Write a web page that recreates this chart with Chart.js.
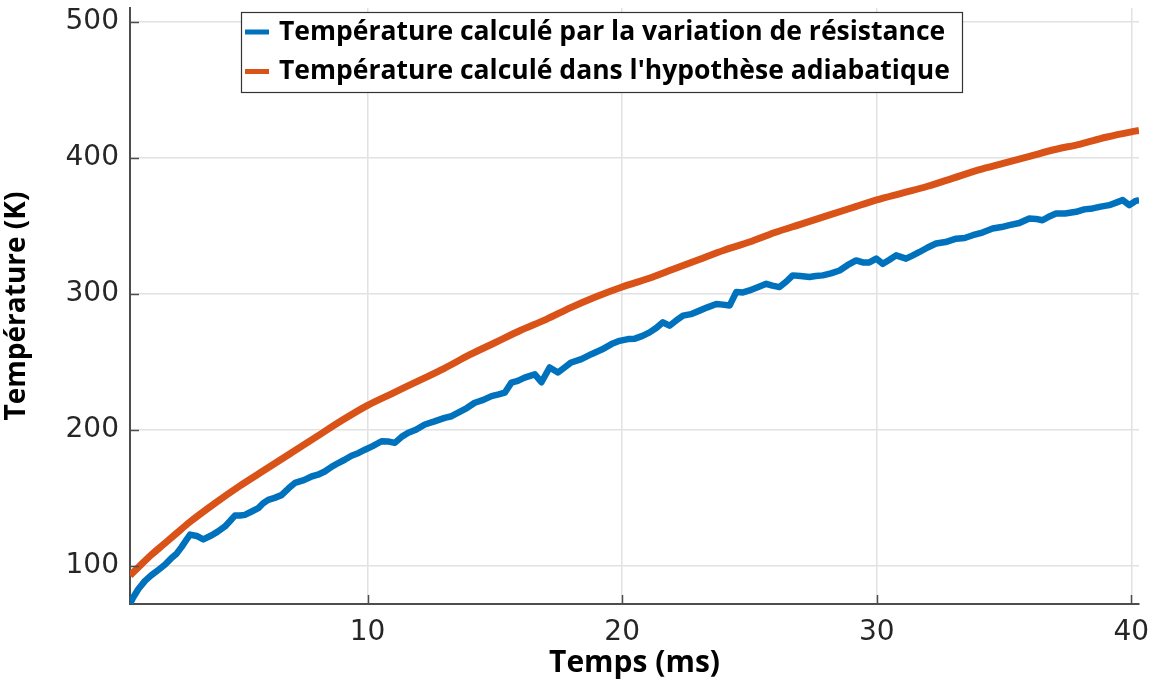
<!DOCTYPE html>
<html>
<head>
    <title>Température</title>
    <script src="https://cdn.jsdelivr.net/npm/chart.js"></script>
    <style>
        body { margin:0; background:#fff; }
        #wrap { width:1161px; height:681px; position:relative; }
    </style>
</head>
<body>
<div id="wrap"><canvas id="tempChart"></canvas></div>
<script>
// data (t in ms, T in K)
const timeBlue = [0.67,0.8,1.0,1.26,1.5,1.78,2.05,2.31,2.5,2.7,2.88,3.03,3.29,3.55,3.88,4.1,4.4,4.6,4.79,5.0,
  5.18,5.45,5.71,5.9,6.1,6.35,6.62,6.9,7.15,7.5,7.8,8.05,8.32,8.6,8.85,9.1,9.37,9.65,9.9,10.2,
  10.55,10.8,11.07,11.35,11.6,11.9,12.25,12.6,13.03,13.3,13.56,13.9,14.21,14.55,14.87,15.15,15.39,15.65,15.9,16.17,
  16.57,16.83,17.15,17.48,17.75,18.0,18.4,18.79,19.2,19.58,19.9,20.23,20.5,20.8,21.08,21.35,21.6,21.86,22.1,22.39,
  22.7,23.04,23.35,23.7,23.95,24.22,24.48,24.75,25.0,25.35,25.66,25.9,26.18,26.45,26.7,27.0,27.36,27.6,27.88,28.2,
  28.54,28.85,29.19,29.45,29.71,29.98,30.24,30.5,30.76,31.15,31.4,31.68,32.0,32.33,32.7,33.12,33.45,33.77,34.15,34.55,
  34.9,35.21,35.6,35.99,36.25,36.51,36.8,37.04,37.4,37.83,38.15,38.48,38.8,39.13,39.4,39.66,39.92,40.15,40.31];
const tempBlue = [72,77,83,89,93,97,101,106,109,114,119,123,122,119.5,122.5,125,129,133,137,137,
  137.5,140,142.5,146,148.5,150,152,157,161,163,165.7,167,169.4,173,175.6,178,181,183,185.4,188,
  191.6,191.5,190.4,195,197.8,200,203.9,206,208.8,210,212.6,216,219.9,222,224.8,226,227.3,234.7,236,238.4,
  240.8,235,245.8,242.1,246,249.5,252,255.6,259,263,265.4,266.7,267,269,271.6,275,279,276.5,280,283.9,
  285,287.6,290,292.5,292,291.3,301.2,301,302.4,305,307.3,306,304.9,309,313.5,313,312.3,313,313.5,315,
  317.1,321,324.5,323,323,325.8,322,325,328.2,325.8,328,330.7,334,336.9,338,340.5,341,343,345,347.9,
  349,350.4,352,355.3,355,354,357,359,359,360.2,362,362.7,364,365.1,367,368.8,365.1,368,368.8];
const timeOrange = [0.67,1,1.5,2,2.5,3,4,5,6,7,8,9,10,11,12,13,14,15,16,17,18,19,20,
  21,22,23,24,25,26,27,28,29,30,31,32,33,34,35,36,37,38,39,40,40.3];
const tempOrange = [93,99,108,116,124,132,146,159,171,183,195,207,218,227,236,245,255,264,273,281,290,298,305,
  311,318,325,332,338,345,351,357,363,369,374,379,385,391,396,401,406,410,415,419,420];
const seriesNames = ['Température calculé par la variation de résistance',
  "Température calculé dans l'hypothèse adiabatique"];
const xTicks = [10,20,30,40];
const yTicks = [100,200,300,400,500];

const blue = '#0072BD', orange = '#D95319';
const tickFont = {family:'DejaVu Sans', size:28};
const boldFont = '"Open Sans", sans-serif';

const pts = (xs, ys) => xs.map((x,i) => ({x:x, y:ys[i]}));

// MATLAB-like inward ticks and the boxed legend inside the axes
const extras = {
  id:'extras',
  afterDraw(chart){
    const ctx = chart.ctx, a = chart.chartArea;
    const xs = chart.scales.x, ys = chart.scales.y;
    ctx.save();
    ctx.strokeStyle = '#4d4d4d'; ctx.lineWidth = 1.5;
    yTicks.forEach(v => { const p = Math.round(ys.getPixelForValue(v))+0.5;
      ctx.beginPath(); ctx.moveTo(a.left, p); ctx.lineTo(a.left+9, p); ctx.stroke(); });
    xTicks.forEach(v => { const p = Math.round(xs.getPixelForValue(v))+0.5;
      ctx.beginPath(); ctx.moveTo(p, a.bottom); ctx.lineTo(p, a.bottom-9); ctx.stroke(); });
    // legend
    const lx = 241.5, ly = 12.5, lw = 721, lh = 80;
    ctx.fillStyle = '#fff'; ctx.fillRect(lx, ly, lw, lh);
    ctx.strokeStyle = '#333'; ctx.lineWidth = 1.2; ctx.strokeRect(lx, ly, lw, lh);
    const rows = [[blue, seriesNames[0], 32], [orange, seriesNames[1], 71.5]];
    ctx.font = 'bold 26.5px ' + boldFont;
    ctx.textBaseline = 'middle'; ctx.textAlign = 'left';
    rows.forEach(r => {
      ctx.strokeStyle = r[0]; ctx.lineWidth = 5;
      ctx.beginPath(); ctx.moveTo(245, r[2]); ctx.lineTo(269, r[2]); ctx.stroke();
      ctx.fillStyle = '#000'; ctx.fillText(r[1], 279, r[2]);
    });
    ctx.restore();
  }
};

new Chart(document.getElementById('tempChart'), {
  type:'line',
  data:{ datasets:[
    {label:seriesNames[0], data:pts(timeBlue,tempBlue), borderColor:blue, borderWidth:6.5,
     pointRadius:0, tension:0, borderJoinStyle:'round'},
    {label:seriesNames[1], data:pts(timeOrange,tempOrange), borderColor:orange, borderWidth:7,
     pointRadius:0, cubicInterpolationMode:'monotone'}
  ]},
  options:{
    responsive:true, maintainAspectRatio:false, animation:false,
    layout:{padding:{top:8, right:22, left:0, bottom:0}},
    plugins:{legend:{display:false}, tooltip:{enabled:false}},
    scales:{
      x:{type:'linear', min:0.67, max:40.3,
         afterBuildTicks: s => { s.ticks = xTicks.map(v => ({value:v})); },
         afterFit: s => { s.height = 77; s.paddingLeft = 0; s.paddingRight = 0; },
         grid:{color:'#e2e2e2', lineWidth:1.5, drawTicks:false},
         border:{display:true, color:'#4d4d4d', width:2},
         ticks:{font:tickFont, color:'#262626', padding:12, maxRotation:0},
         title:{display:true, text:'Temps (ms)', color:'#000', padding:{top:0,bottom:0},
                font:{family:boldFont, size:30, weight:'bold'}}},
      y:{min:72, max:510,
         afterBuildTicks: s => { s.ticks = yTicks.map(v => ({value:v})); },
         afterFit: s => { s.width = 130; s.paddingTop = 0; s.paddingBottom = 0; },
         grid:{color:'#e2e2e2', lineWidth:1.5, drawTicks:false},
         border:{display:true, color:'#4d4d4d', width:2},
         ticks:{font:tickFont, color:'#262626', padding:11},
         title:{display:true, text:'Température (K)', color:'#000', padding:{top:0,bottom:0},
                font:{family:boldFont, size:28, weight:'bold'}}}
    }
  },
  plugins:[extras]
});
</script>
</body>
</html>
